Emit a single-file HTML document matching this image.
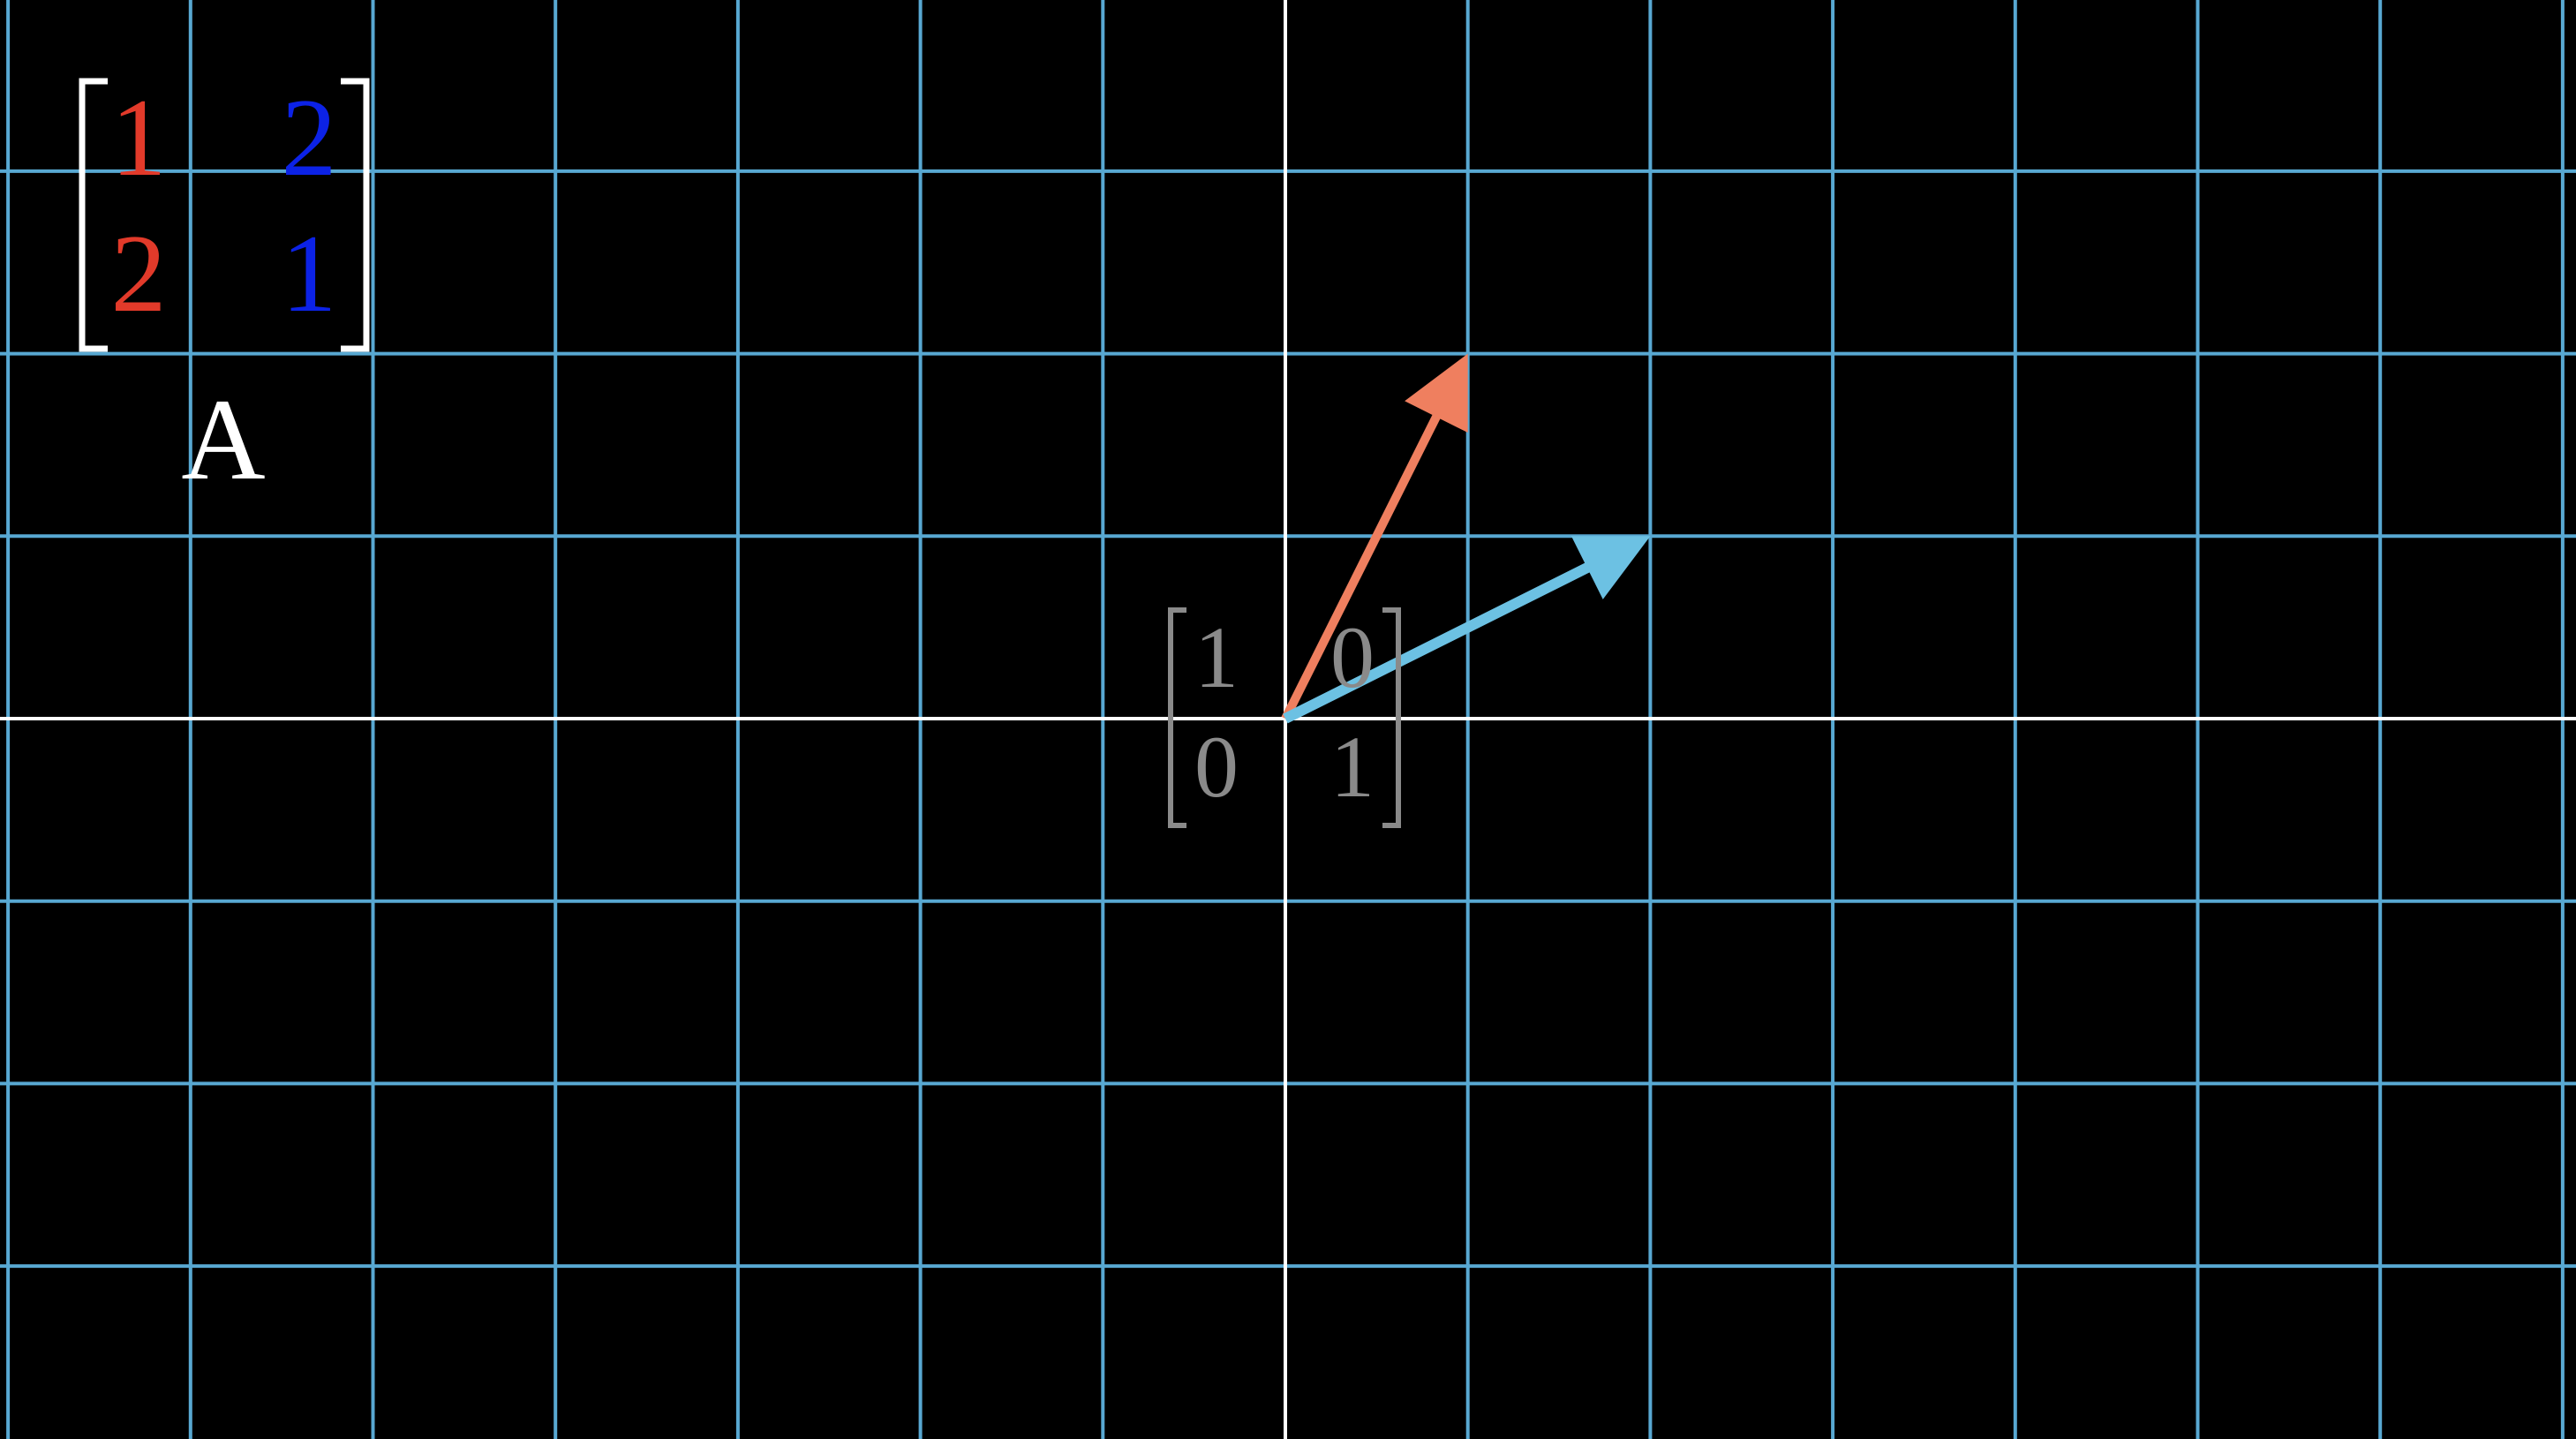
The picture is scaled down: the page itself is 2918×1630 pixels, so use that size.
<!DOCTYPE html>
<html><head><meta charset="utf-8"><style>
html,body{margin:0;padding:0;background:#000;}
svg{display:block;}
text{font-family:"Liberation Serif",serif;}
</style></head><body>
<svg id="plot" width="2918" height="1630" viewBox="0 0 2918 1630" xmlns="http://www.w3.org/2000/svg">
<rect width="2918" height="1630" fill="#000"/>
<g id="grid"></g>
<g id="vectors"></g>
<g fill="#8a8a8a">
<path d="M1344 691 H1326 V935 H1344" fill="none" stroke="#8a8a8a" stroke-width="6"/>
<path d="M1566 691 H1584 V935 H1566" fill="none" stroke="#8a8a8a" stroke-width="6"/>
<text x="1378" y="778" font-size="100" text-anchor="middle">1</text>
<text x="1532" y="778" font-size="100" text-anchor="middle">0</text>
<text x="1378" y="902" font-size="100" text-anchor="middle">0</text>
<text x="1532" y="902" font-size="100" text-anchor="middle">1</text>
</g>
<g>
<path d="M122 92 H93 V395 H122" fill="none" stroke="#fff" stroke-width="7"/>
<path d="M386 92 H415 V395 H386" fill="none" stroke="#fff" stroke-width="7"/>
<text x="157" y="198" font-size="126" text-anchor="middle" fill="#e23a2a">1</text>
<text x="350" y="198" font-size="126" text-anchor="middle" fill="#0c22e6">2</text>
<text x="157" y="352" font-size="126" text-anchor="middle" fill="#e23a2a">2</text>
<text x="350" y="352" font-size="126" text-anchor="middle" fill="#0c22e6">1</text>
<text x="253" y="542" font-size="132" text-anchor="middle" fill="#fff">A</text>
</g>
</svg>
<script>
const gridX = [-7,-6,-5,-4,-3,-2,-1,0,1,2,3,4,5,6,7];
const gridY = [-4,-3,-2,-1,0,1,2,3,4];
const vecNames = ["i-hat","j-hat"];
const vecX = [1,2];
const vecY = [2,1];
const vecColors = ["#ef7f5f","#6cc1e3"];

const ox = 1456, oy = 814, unit = 206.7;
const sx = v => ox + v*unit;
const sy = v => oy - v*unit;
const NS = "http://www.w3.org/2000/svg";
const grid = document.getElementById('grid');
function line(x1,y1,x2,y2,color,w,parent){
  const l = document.createElementNS(NS,'line');
  l.setAttribute('x1',x1);l.setAttribute('y1',y1);l.setAttribute('x2',x2);l.setAttribute('y2',y2);
  l.setAttribute('stroke',color);l.setAttribute('stroke-width',w);
  parent.appendChild(l);return l;
}
gridX.forEach(v=>{
  if(v===0) return;
  const l = line(sx(v),0,sx(v),1630,'#58a8d2',4,grid);
  
  
});
gridY.forEach(v=>{
  if(v===0) return;
  const l = line(0,sy(v),2918,sy(v),'#58a8d2',4,grid);
  
  
});
const xa = line(0,oy,2918,oy,'#fff',4,grid);


const ya = line(ox,0,ox,1630,'#fff',4,grid);



const vg = document.getElementById('vectors');
vecX.forEach((vx,i)=>{
  const tx = sx(vx), ty = sy(vecY[i]);
  const dx = tx-ox, dy = ty-oy, len = Math.hypot(dx,dy);
  const ux = dx/len, uy = dy/len, px = -uy, py = ux;
  const hl = 80, hw = 40;
  const bx = tx-ux*hl, by = ty-uy*hl;
  const g = document.createElementNS(NS,'g');
  
  
  const l = line(ox,oy,bx+ux*4,by+uy*4,vecColors[i],i===0?10:12,g);
  
  
  const p = document.createElementNS(NS,'polygon');
  p.setAttribute('points',`${tx},${ty} ${bx+px*hw},${by+py*hw} ${bx-px*hw},${by-py*hw}`);
  p.setAttribute('fill',vecColors[i]);
  
  
  g.appendChild(p);
  vg.appendChild(g);
});
</script>
</body></html>
